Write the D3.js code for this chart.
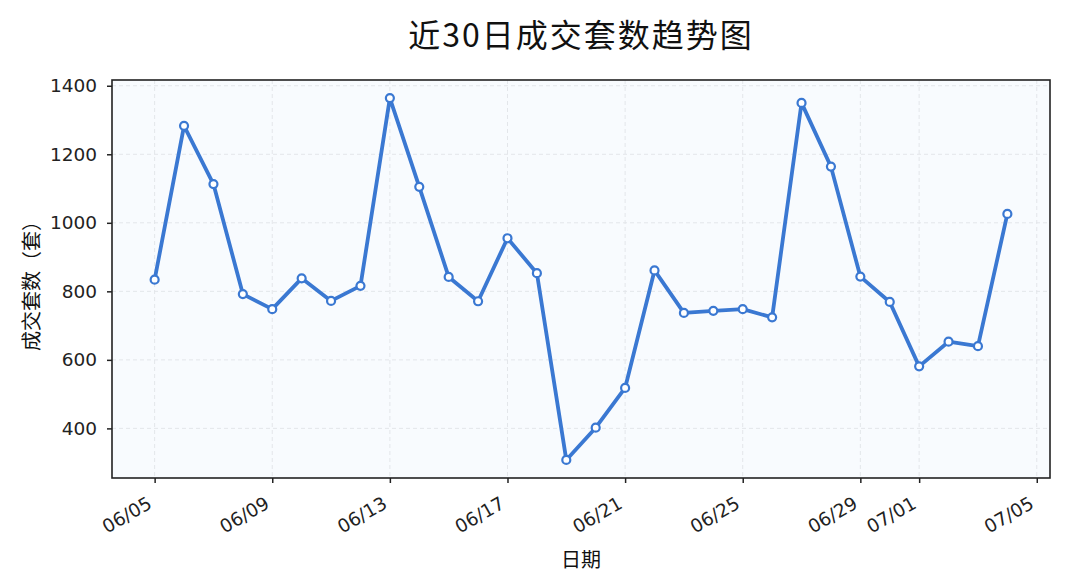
<!DOCTYPE html>
<html>
<head>
<meta charset="utf-8">
<script src="https://cdn.jsdelivr.net/npm/d3@7/dist/d3.min.js"></script>
<style>
  html, body { margin: 0; padding: 0; background: #ffffff; }
  svg { display: block; }
</style>
</head>
<body>
<svg id="chart" width="1065" height="587"></svg>
<script>
// ---- data ----
const dates = ["06/05","06/06","06/07","06/08","06/09","06/10","06/11","06/12","06/13","06/14",
               "06/15","06/16","06/17","06/18","06/19","06/20","06/21","06/22","06/23","06/24",
               "06/25","06/26","06/27","06/28","06/29","06/30","07/01","07/02","07/03","07/04"];
const counts = [834, 1283, 1113, 792, 748, 838, 772, 816, 1364, 1105,
                842, 771, 955, 853, 308, 402, 518, 861, 737, 743,
                748, 724, 1350, 1164, 843, 769, 581, 653, 640, 1026];
const xTickLabels = ["06/05","06/09","06/13","06/17","06/21","06/25","06/29","07/01","07/05"];
const yTicks = [400, 600, 800, 1000, 1200, 1400];
const year = 2024;

// ---- layout ----
const W = 1065, H = 587;
const m = { left: 112, right: 15, top: 80, bottom: 109 };
const iw = W - m.left - m.right, ih = H - m.top - m.bottom;

const parse = s => { const [mo, d] = s.split("/").map(Number); return new Date(Date.UTC(year, mo - 1, d)); };
const xs = dates.map(parse);
const span = xs[xs.length - 1] - xs[0];
const x = d3.scaleUtc()
  .domain([new Date(+xs[0] - span * 0.05), new Date(+xs[xs.length - 1] + span * 0.05)])
  .range([0, iw]);
const ymin = d3.min(counts), ymax = d3.max(counts);
const yr = ymax - ymin;
const y = d3.scaleLinear().domain([ymin - yr * 0.05, ymax + yr * 0.05]).range([ih, 0]);

const svg = d3.select("#chart");
const g = svg.append("g").attr("transform", `translate(${m.left},${m.top})`);

// background
g.append("rect").attr("width", iw).attr("height", ih).attr("fill", "#f8fbfe");

const xTickDates = xTickLabels.map(parse);

// grid
g.append("g").selectAll("line").data(xTickDates).join("line")
  .attr("x1", d => x(d)).attr("x2", d => x(d)).attr("y1", 0).attr("y2", ih)
  .attr("stroke", "#e3e6ea").attr("stroke-width", 1).attr("stroke-dasharray", "4,3");
g.append("g").selectAll("line").data(yTicks).join("line")
  .attr("y1", d => y(d)).attr("y2", d => y(d)).attr("x1", 0).attr("x2", iw)
  .attr("stroke", "#e3e6ea").attr("stroke-width", 1).attr("stroke-dasharray", "4,3");

// axes
const tickFont = "'DejaVu Sans', sans-serif";
const yAxis = g.append("g").call(d3.axisLeft(y).tickValues(yTicks).tickSize(5).tickPadding(10).tickFormat(d3.format("d")));
yAxis.select(".domain").remove();
yAxis.selectAll(".tick line").attr("stroke", "#222").attr("stroke-width", 1.5);
yAxis.selectAll(".tick text").attr("font-family", tickFont).attr("font-size", 18.5).attr("fill", "#222");

const xAxis = g.append("g").attr("transform", `translate(0,${ih})`)
  .call(d3.axisBottom(x).tickValues(xTickDates).tickSize(5).tickFormat((d, i) => xTickLabels[i]));
xAxis.select(".domain").remove();
xAxis.selectAll(".tick line").attr("stroke", "#222").attr("stroke-width", 1.5);
xAxis.selectAll(".tick text")
  .attr("font-family", tickFont).attr("font-size", 18.5).attr("fill", "#222")
  .attr("text-anchor", "end")
  .attr("y", 0).attr("dy", 0)
  .attr("transform", "translate(-2,29) rotate(-30)");

// frame
g.append("rect").attr("width", iw).attr("height", ih).attr("fill", "none")
  .attr("stroke", "#222").attr("stroke-width", 1.6);

// line
const color = "#3a78d2";
const line = d3.line().x((d, i) => x(xs[i])).y(d => y(d));
g.append("path").datum(counts).attr("d", line)
  .attr("fill", "none").attr("stroke", color).attr("stroke-width", 3.8)
  .attr("stroke-linejoin", "round").attr("stroke-linecap", "round");
g.append("g").selectAll("circle").data(counts).join("circle")
  .attr("cx", (d, i) => x(xs[i])).attr("cy", d => y(d)).attr("r", 4)
  .attr("fill", "#ffffff").attr("stroke", color).attr("stroke-width", 2.2);

// titles
const cjk = "'Noto Sans CJK SC', sans-serif";
svg.append("text").attr("x", m.left + iw / 2).attr("y", 33)
  .attr("text-anchor", "middle").attr("dominant-baseline", "central")
  .attr("font-family", cjk).attr("font-size", 32).attr("letter-spacing", 2).attr("fill", "#111")
  .text("近30日成交套数趋势图");
svg.append("text").attr("x", m.left + iw / 2).attr("y", 558)
  .attr("text-anchor", "middle").attr("dominant-baseline", "central")
  .attr("font-family", cjk).attr("font-size", 20).attr("fill", "#111")
  .text("日期");
svg.append("text").attr("transform", `translate(30,${m.top + ih / 2 + 2}) rotate(-90)`)
  .attr("text-anchor", "middle").attr("dominant-baseline", "central")
  .attr("font-family", cjk).attr("font-size", 20).attr("fill", "#111")
  .text("成交套数（套）");
</script>
</body>
</html>
